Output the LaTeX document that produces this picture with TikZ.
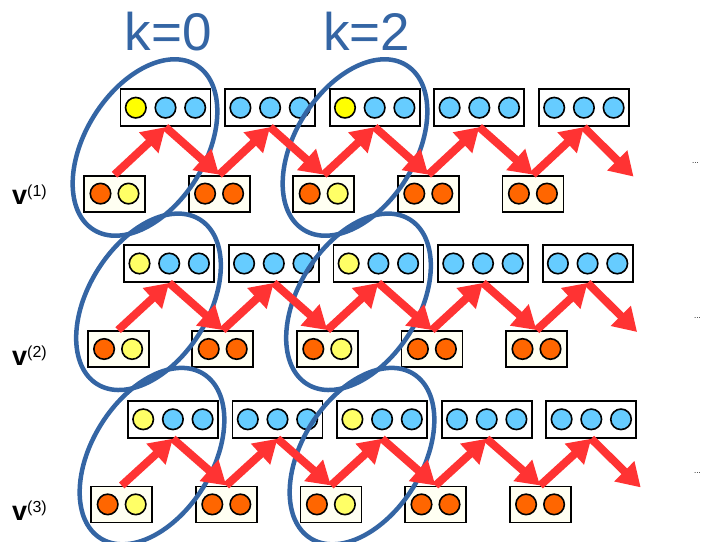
\documentclass[tikz,border=0pt]{standalone}
\usepackage{fontspec}
\setmainfont{Liberation Sans}
\usetikzlibrary{arrows.meta,calc}
\definecolor{ellblue}{RGB}{52,101,164}
\definecolor{arrred}{RGB}{255,51,51}
\definecolor{orangec}{RGB}{255,102,0}
\definecolor{yelbright}{RGB}{255,255,0}
\definecolor{yellight}{RGB}{255,255,102}
\definecolor{bluec}{RGB}{102,204,255}
\definecolor{ivoryc}{RGB}{255,255,242}
\begin{document}
\begin{tikzpicture}[x=1pt,y=-1pt,
  topbox/.style={draw=black,line width=1.8pt,fill=white,minimum width=90pt,minimum height=37pt,inner sep=0pt},
  botbox/.style={draw=black,line width=1.8pt,fill=ivoryc,minimum width=61pt,minimum height=36pt,inner sep=0pt},
  ball/.style={circle,draw=black,line width=1.6pt,minimum size=20.5pt,inner sep=0pt},
  zig/.style={draw=arrred,line width=8pt,-{Triangle[length=23pt,width=27pt]}},
  ring/.style={draw=ellblue,line width=4.5pt},
  klabel/.style={text=ellblue,font=\fontsize{53}{53}\selectfont,inner sep=0pt,anchor=base west},
  vlabel/.style={inner sep=0pt,anchor=base west},
  dotlabel/.style={inner sep=0pt,anchor=west,font=\fontsize{8}{8}\selectfont}
]
\useasboundingbox (0,0) rectangle (704,541);
% boxes and balls
\foreach \r in {0,1,2}{
  \foreach \i in {0,...,4}{
    \pgfmathsetmacro{\tx}{165.5+104.6*\i+3.7*\r}
    \pgfmathsetmacro{\ty}{107.7+155.8*\r}
    \pgfmathsetmacro{\bx}{114.5+104.6*\i+3.6*\r}
    \pgfmathsetmacro{\by}{193.6+155.4*\r}
    \ifnum\r=0 \def\yc{yelbright}\else\def\yc{yellight}\fi
    \ifnum\i=1 \def\ca{bluec}\def\cb{orangec}\else
      \ifnum\i>2 \def\ca{bluec}\def\cb{orangec}\else\def\ca{\yc}\def\cb{yellight}\fi\fi
    \node[topbox] (T\r\i) at (\tx,\ty) {};
    \node[ball,fill=\ca] (T\r\i a) at ($(T\r\i)+(-29.7,0)$) {};
    \node[ball,fill=bluec] (T\r\i b) at (T\r\i) {};
    \node[ball,fill=bluec] (T\r\i c) at ($(T\r\i)+(29.7,0)$) {};
    \node[botbox] (B\r\i) at (\bx,\by) {};
    \node[ball,fill=orangec] (B\r\i a) at ($(B\r\i)+(-14,0)$) {};
    \node[ball,fill=\cb] (B\r\i b) at ($(B\r\i)+(14,0)$) {};
  }
  \pgfmathsetmacro{\ex}{114.5+104.6*5+3.6*\r-4}
  \pgfmathsetmacro{\ey}{193.6+155.4*\r-17}
  \coordinate (E\r) at (\ex,\ey);
}
% ellipses
\foreach \r in {0,1,2}{
  \pgfmathsetmacro{\cx}{145+3.5*\r}
  \pgfmathsetmacro{\cy}{147.5+154.3*\r}
  \pgfmathsetmacro{\cxx}{\cx+210}
  \draw[ring,rotate around={58:(\cx,\cy)}] (\cx,\cy) ellipse [x radius=97pt,y radius=60pt];
  \draw[ring,rotate around={58:(\cxx,\cy)}] (\cxx,\cy) ellipse [x radius=97pt,y radius=60pt];
}
% zigzag arrows
\foreach \r in {0,1,2}{
  \draw[zig] (B\r0.north) -- (T\r0.south);
  \foreach \i in {0,...,3}{
    \pgfmathtruncatemacro{\j}{\i+1}
    \draw[zig] (T\r\i.south) -- (B\r\j.north);
    \draw[zig] (B\r\j.north) -- (T\r\j.south);
  }
  \draw[zig] (T\r4.south) -- (E\r);
}
% labels
\node[klabel] (k0) at (124.5,50.7) {k=0};
\node[klabel] (k2) at (323,50.7) {k=2};
\node[vlabel] (v1) at (12,204) {{\fontsize{27}{27}\selectfont\bfseries v}{\fontsize{16}{16}\selectfont\raisebox{7.5pt}{(1)}}};
\node[vlabel] (v2) at (12,365) {{\fontsize{27}{27}\selectfont\bfseries v}{\fontsize{16}{16}\selectfont\raisebox{7.5pt}{(2)}}};
\node[vlabel] (v3) at (12,520) {{\fontsize{27}{27}\selectfont\bfseries v}{\fontsize{16}{16}\selectfont\raisebox{7.5pt}{(3)}}};
\node[dotlabel] (d1) at (692,163) {...};
\node[dotlabel] (d2) at (694,318) {...};
\node[dotlabel] (d3) at (694,473) {...};
\end{tikzpicture}
\end{document}
